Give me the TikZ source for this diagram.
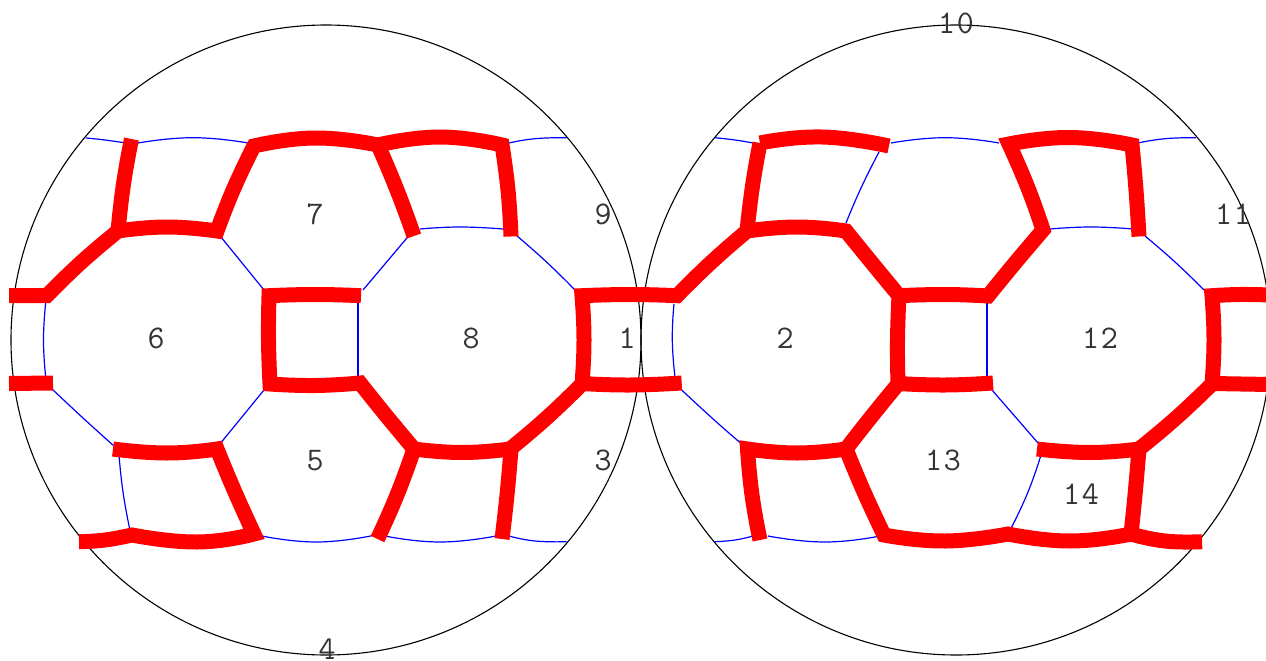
\documentclass[tikz,border=0pt]{standalone}
\tikzset{
  base/.style={x=1pt,y=-1pt},
  rim/.style={draw=black,line width=1.1pt},
  thin edge/.style={draw=blue,line width=1.2pt},
  thick edge/.style={draw=red,line width=15pt,line join=miter,line cap=butt,miter limit=6},
  curve/.style={smooth,tension=0.85},
  num/.style={inner sep=0pt,text=black!80,font=\fontsize{33}{33}\ttfamily}
}
\begin{document}
\begin{tikzpicture}[base]
\path[use as bounding box,clip] (0,0) rectangle (1266,661);
\fill[white] (0,0) rectangle (1266,661);
% rims
\draw[rim] (326,340) circle[radius=315];
\draw[rim] (956,340) circle[radius=315];
% thin edges, left disc
\begin{scope}[thin edge]
\draw plot[curve] coordinates {(46,300) (43.5,340) (46,380)};
\draw plot[curve] coordinates {(52,389) (83,418) (114,446)};
\draw plot[curve] coordinates {(119,455) (123,492) (129.5,528)};
\draw plot[curve] coordinates {(86,138) (105,140) (126,143)};
\draw plot[curve] coordinates {(138,143) (193,137.7) (248,143)};
\draw (220.7,236.7) -- (264,290);
\draw (363,290) -- (408,236.7);
\draw (358,300) -- (358,378);
\draw (264,390) -- (220.7,443);
\draw plot[curve] coordinates {(262,536) (316.7,542) (372,535.7)};
\draw plot[curve] coordinates {(385,536) (440,542) (496,536)};
\draw plot[curve] coordinates {(509,536) (535,541) (566.7,541.7)};
\draw plot[curve] coordinates {(509,143) (535,138.7) (566.7,137.7)};
\draw plot[curve] coordinates {(420,229) (460,227) (503,229)};
\draw plot[curve] coordinates {(516.7,235.7) (546.5,262) (575,290)};
% thin edges, right disc
\draw plot[curve] coordinates {(715,137.7) (735,140) (753,143)};
\draw plot[curve] coordinates {(891,143) (945,137.7) (999,143)};
\draw plot[curve] coordinates {(879,152) (861,188) (846,223)};
\draw plot[curve] coordinates {(1138,143) (1165,138.7) (1196,137.7)};
\draw plot[curve] coordinates {(1050,229) (1091,227) (1133,229)};
\draw plot[curve] coordinates {(1145,236) (1175,262) (1204,290)};
\draw[line width=1.4pt] (987,300) -- (987,378);
\draw (992,390) -- (1038,443);
\draw plot[curve] coordinates {(1040.7,456) (1028,492) (1011.7,527)};
\draw plot[curve] coordinates {(674,304) (672.3,340) (675,377)};
\draw plot[curve] coordinates {(681.7,390) (712,418) (741.7,444)};
\draw plot[curve] coordinates {(715,541.7) (735,540) (753,536)};
\draw plot[curve] coordinates {(768,536) (825,542) (880,536)};
\end{scope}
% thick edges, left disc
\begin{scope}[thick edge]
\draw (9,295.5) -- (47,295.5) -- plot[curve] coordinates {(47,295.5) (81,262.5) (118,231)} -- plot[curve] coordinates {(118,231) (167,227) (217,231)} -- plot[curve] coordinates {(217,231) (234,188) (254,146)} -- plot[curve] coordinates {(254,146) (315,138) (378,145)} -- plot[curve] coordinates {(378,145) (397,190) (414,236)};
\draw plot[curve] coordinates {(131.5,139) (123.5,184) (118,231)};
\draw plot[curve] coordinates {(378,145) (440,137) (502,145)} -- plot[curve] coordinates {(502,145) (508,190) (511,236.5)};
\draw (9,383.5) -- (53,383);
\draw (361,295.7) -- plot[curve] coordinates {(361,295.7) (315,294.5) (269,295.7)} -- plot[curve] coordinates {(269,295.7) (268.5,340) (270,384)} -- plot[curve] coordinates {(270,384) (315,385.5) (360,383)} -- plot[curve] coordinates {(360,383) (386.5,416) (414,449)} -- plot[curve] coordinates {(414,449) (462,452.5) (510,449)} -- plot[curve] coordinates {(510,449) (546.5,418) (582,384)} -- plot[curve] coordinates {(582,384) (584,340) (582,295.7)} -- plot[curve] coordinates {(582,295.7) (630,294.5) (677,295.7)} -- plot[curve] coordinates {(677,295.7) (711,262.5) (747,231)} -- plot[curve] coordinates {(747,231) (797,227) (846,231)} -- plot[curve] coordinates {(846,231) (872,263) (899,295.7)} -- plot[curve] coordinates {(899,295.7) (945,294.5) (988,296)} -- plot[curve] coordinates {(988,296) (1015,263) (1043,230)} -- plot[curve] coordinates {(1043,230) (1028,188) (1009,144)} -- plot[curve] coordinates {(1009,144) (1070,137.5) (1132,145)} -- plot[curve] coordinates {(1132,145) (1136,190) (1139,236.5)};
\draw (582,383.5) -- plot[curve] coordinates {(582,383.5) (630,385) (681.7,383)};
\draw plot[curve] coordinates {(113,449) (167,453) (217,449)} -- plot[curve] coordinates {(217,449) (234.5,491) (254,534)} -- plot[curve] coordinates {(254,534) (197,542) (132,535)} -- plot[curve] coordinates {(132,535) (105,540) (79,541.7)};
\draw plot[curve] coordinates {(377.5,539) (397,495) (414,449)};
\draw plot[curve] coordinates {(502,539) (507,495) (511,449)};
% thick edges, right disc
\draw plot[curve] coordinates {(760,540) (752,495) (747.5,449)} -- plot[curve] coordinates {(747.5,449) (797,453) (846,449)} -- plot[curve] coordinates {(846,449) (864,492) (884,535)} -- plot[curve] coordinates {(884,535) (945,541) (1008,534)} -- plot[curve] coordinates {(1008,534) (1070,541) (1131,534)} -- plot[curve] coordinates {(1131,534) (1165,541) (1202,541.7)};
\draw plot[curve] coordinates {(846,449) (871.5,416.5) (898,384)} -- plot[curve] coordinates {(898,384) (897.5,340) (899,295.7)};
\draw plot[curve] coordinates {(898,383.5) (945,385) (993,383)};
\draw plot[curve] coordinates {(760,143) (752.5,186) (747,231)};
\draw plot[curve] coordinates {(760,143) (822,137) (889,146)};
\draw plot[curve] coordinates {(1131,534) (1135,495) (1139,449)} -- plot[curve] coordinates {(1139,449) (1090,452.5) (1037,449)};
\draw plot[curve] coordinates {(1139,449) (1176,418) (1212,384)} -- plot[curve] coordinates {(1212,384) (1214,340) (1212,295.7)} -- plot[curve] coordinates {(1212,295.7) (1240,294.5) (1270,295)};
\draw (1212,383.5) -- (1270,384.5);
\end{scope}
% labels
\node[num] (n1) at (627,338) {1};
\node[num] (n2) at (785,338) {2};
\node[num] (n3) at (603,460.5) {3};
\node[num] (n4) at (327,649.5) {4};
\node[num] (n5) at (315,460.5) {5};
\node[num] (n6) at (156,338) {6};
\node[num] (n7) at (315,214.5) {7};
\node[num] (n8) at (471,338) {8};
\node[num] (n9) at (603,214.5) {9};
\node[num] (n10) at (956,23) {1\kern1.7pt 0};
\node[num] (n11) at (1233,214.5) {1\kern1.7pt 1};
\node[num] (n12) at (1100,338) {1\kern1.7pt 2};
\node[num] (n13) at (943,460.5) {1\kern1.7pt 3};
\node[num] (n14) at (1081,494.5) {1\kern1.7pt 4};
\end{tikzpicture}
\end{document}
